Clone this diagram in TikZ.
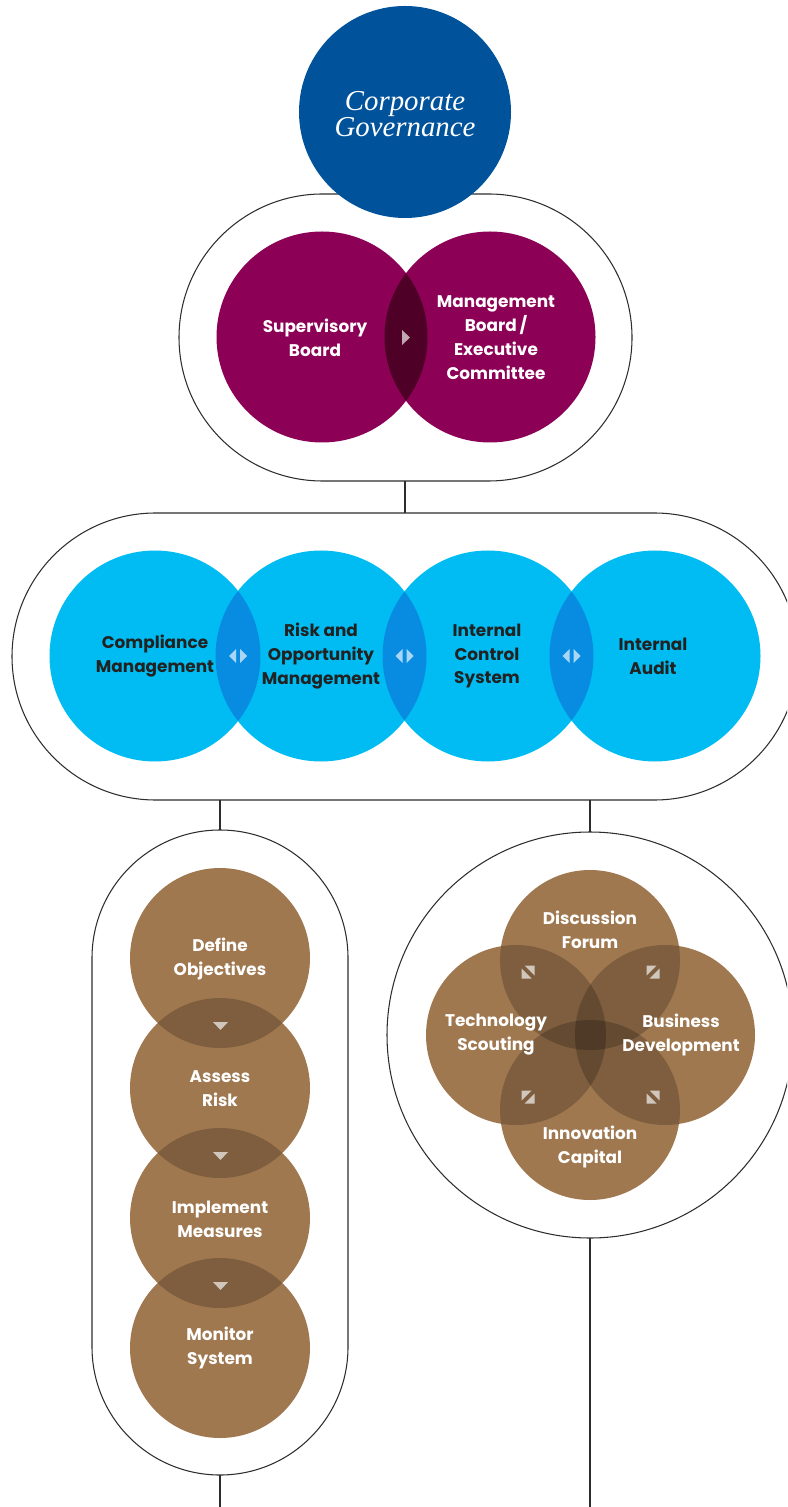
\documentclass[tikz,border=0pt]{standalone}
\usepackage{fontspec}
\setmainfont{Poppins}
\newfontfamily\titlefont{Liberation Serif}

\definecolor{cgblue}{RGB}{0,82,155}
\definecolor{boardpurple}{RGB}{140,0,85}
\definecolor{boardlens}{RGB}{78,0,38}
\definecolor{controlcyan}{RGB}{0,188,242}
\definecolor{controllens}{RGB}{8,140,226}
\definecolor{riskbrown}{RGB}{160,120,80}
\definecolor{hullgray}{RGB}{45,45,45}
\definecolor{darktext}{RGB}{34,34,34}

\tikzset{
	hull/.style={draw=hullgray, line width=0.3pt},
	link/.style={draw=hullgray, line width=0.4pt},
	overlap/.style={fill=black, fill opacity=0.21},
	marker/.style={fill=white, fill opacity=0.65},
	titlelabel/.style={text=white, align=center, font=\titlefont\itshape\fontsize{8.2}{7.4}\selectfont},
	boardlabel/.style={text=white, align=center, font=\bfseries\fontsize{4.8}{6.8}\selectfont},
	controllabel/.style={text=darktext, align=center, font=\bfseries\fontsize{4.8}{6.8}\selectfont},
	risklabel/.style={text=white, align=center, font=\bfseries\fontsize{4.8}{6.8}\selectfont}
}

\begin{document}
\begin{tikzpicture}[x=0.01cm, y=-0.01cm]
	\useasboundingbox (0,0) rectangle (787,1507);
	\clip (0,0) rectangle (787,1507);

	% Rahmen
	\draw[hull, rounded corners=1.435cm] (179,194) rectangle (632,481);
	\draw[hull, rounded corners=1.435cm] (12,513) rectangle (798,800);
	\draw[hull, rounded corners=1.28cm] (92,830) rectangle (348,1475);
	\draw[hull] (590,1035) circle (203);

	% Anschlusspunkte
	\coordinate (boardbot) at (405,481);
	\coordinate (controltop) at (405,513);
	\coordinate (controlleft) at (220,800);
	\coordinate (controlright) at (590,800);
	\coordinate (cycletop) at (220,830);
	\coordinate (cyclebot) at (220,1475);
	\coordinate (innotop) at (590,832);
	\coordinate (innobot) at (590,1238);
	\coordinate (endleft) at (220,1507);
	\coordinate (endright) at (590,1507);

	\draw[link] (boardbot) -- (controltop);
	\draw[link] (controlleft) -- (cycletop);
	\draw[link] (controlright) -- (innotop);
	\draw[link] (cyclebot) -- (endleft);
	\draw[link] (innobot) -- (endright);

	% Corporate Governance
	\fill[cgblue] (405,112) circle (106);
	\node[titlelabel] (cg) at (405,114) {Corporate\\Governance};

	% Vorstand und Aufsichtsrat
	\fill[boardpurple] (322,337) circle (105.5);
	\fill[boardpurple] (490,337) circle (105.5);
	\begin{scope}
		\clip (322,337) circle (105.5);
		\fill[boardlens] (490,337) circle (105.5);
	\end{scope}
	\fill[marker] (402,330) -- (402,345) -- (410,337.5) -- cycle;
	\node[boardlabel] (supervisory) at (315,338) {Supervisory\\Board};
	\node[boardlabel] (management) at (496,338) {Management\\Board\,/\\Executive\\Committee};

	% Kontrollsysteme
	\foreach \x in {155,321,488,655}
		\fill[controlcyan] (\x,656) circle (105.5);
	\foreach \x/\xx in {155/321,321/488,488/655}
	{
		\begin{scope}
			\clip (\x,656) circle (105.5);
			\fill[controllens] (\xx,656) circle (105.5);
		\end{scope}
		\fill[marker] ({(\x+\xx)/2-2},649) -- ({(\x+\xx)/2-2},663) -- ({(\x+\xx)/2-9},656) -- cycle;
		\fill[marker] ({(\x+\xx)/2+2},649) -- ({(\x+\xx)/2+2},663) -- ({(\x+\xx)/2+9},656) -- cycle;
	}
	\node[controllabel] (compliance) at (155,656) {Compliance\\Management};
	\node[controllabel] (riskopp) at (321,656) {Risk and\\Opportunity\\Management};
	\node[controllabel] (ics) at (487,656) {Internal\\Control\\System};
	\node[controllabel] (audit) at (653,656) {Internal\\Audit};

	% Risikomanagement-Kreislauf
	\foreach \y in {958,1088,1218,1348}
		\fill[riskbrown] (220,\y) circle (90);
	\foreach \y in {958,1088,1218}
	{
		\begin{scope}
			\clip (220,\y) circle (90);
			\fill[overlap] (220,\y+130) circle (90);
		\end{scope}
		\fill[marker] (213,\y+64) -- (228,\y+64) -- (220.5,\y+72) -- cycle;
	}
	\node[risklabel] (define) at (220,959) {Define\\Objectives};
	\node[risklabel] (assess) at (220,1089) {Assess\\Risk};
	\node[risklabel] (implement) at (220,1219) {Implement\\Measures};
	\node[risklabel] (monitor) at (220,1348) {Monitor\\System};

	% Innovation
	\foreach \x/\y in {590/960,516/1035,665/1035,590/1110}
		\fill[riskbrown] (\x,\y) circle (90);
	\begin{scope}
		\clip (516,1035) circle (90);
		\fill[overlap] (590,960) circle (90);
	\end{scope}
	\begin{scope}
		\clip (665,1035) circle (90);
		\fill[overlap] (590,960) circle (90) (516,1035) circle (90);
	\end{scope}
	\begin{scope}
		\clip (590,1110) circle (90);
		\fill[overlap] (590,960) circle (90) (516,1035) circle (90) (665,1035) circle (90);
	\end{scope}
	\foreach \x/\y/\m in {528/972/1,653/972/-1,528/1097/-1,653/1097/1}
	{
		\begin{scope}[shift={(\x,\y)}, xscale=\m]
			\fill[marker] (-3.5,-6.5) -- (6.5,-6.5) -- (6.5,3.5) -- cycle;
			\fill[marker] (-6.5,-3.5) -- (-6.5,6.5) -- (3.5,6.5) -- cycle;
		\end{scope}
	}
	\node[risklabel] (forum) at (590,930) {Discussion\\Forum};
	\node[risklabel] (scouting) at (496,1035) {Technology\\Scouting};
	\node[risklabel] (business) at (681,1035) {Business\\Development};
	\node[risklabel] (capital) at (590,1147) {Innovation\\Capital};
\end{tikzpicture}
\end{document}
